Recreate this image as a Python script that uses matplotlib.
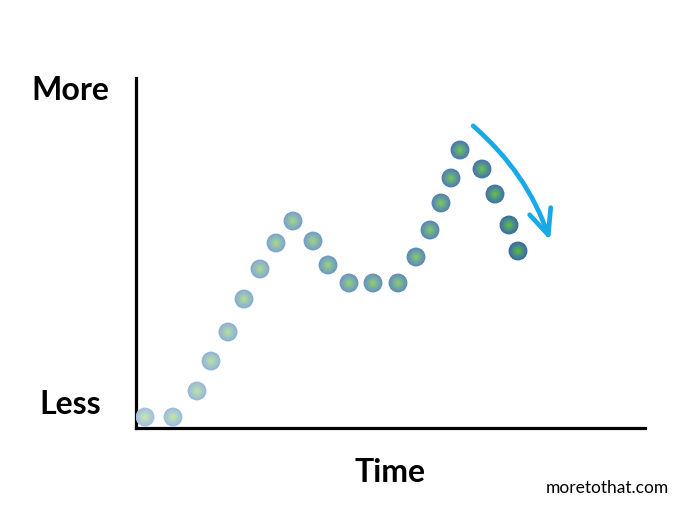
import matplotlib
matplotlib.use("Agg")
import matplotlib.pyplot as plt
import numpy as np
from matplotlib.colors import to_rgb

# Data (time, amount)
time = [0.9, 3.7, 6.1, 7.5, 9.2, 10.8, 12.4, 14.0, 15.7, 17.7, 19.2, 21.3,
        23.7, 26.2, 28.0, 29.4, 30.5, 31.5, 32.4, 34.6, 35.9, 37.3, 38.2]
amount = [1.1, 1.1, 3.7, 6.7, 9.6, 12.9, 15.9, 18.5, 20.7, 18.7, 16.3, 14.5,
          14.5, 14.5, 17.1, 19.8, 22.5, 25.0, 27.8, 25.9, 23.4, 20.3, 17.7]
y_labels = ["Less", "More"]
x_label = "Time"
credit = "moretothat.com"

plt.rcParams['font.family'] = ['Lato', 'DejaVu Sans']

fig = plt.figure(figsize=(7.0, 5.13), dpi=100)
ax = fig.add_axes([136/700, 85/513, 509/700, 350/513])
ax.set_xlim(0, 50.9)
ax.set_ylim(0, 35.0)
for s in ['top', 'right']:
    ax.spines[s].set_visible(False)
for s in ['left', 'bottom']:
    ax.spines[s].set_linewidth(2.3)
    ax.spines[s].set_color('black')
ax.set_xticks([])
ax.set_yticks([])
ax.patch.set_alpha(0)

# gradient colours: early points lighter, later darker
edge_light = np.array(to_rgb('#a0c0e2'))
edge_dark = np.array(to_rgb('#3668a8'))
ctr_light = np.array(to_rgb('#cae6b2'))
ctr_dark = np.array(to_rgb('#5cbc48'))
n = len(time)
steps = 18
base_size = 185
for i, (t, a) in enumerate(zip(time, amount)):
    f = i / (n - 1)
    edge = edge_light * (1 - f) + edge_dark * f
    ctr = ctr_light * (1 - f) + ctr_dark * f
    for k in range(steps):
        g = k / (steps - 1)
        w = g ** 1.0
        col = edge * (1 - w) + ctr * w
        size = base_size * (1 - g * 0.95) ** 2
        ax.scatter([t], [a], s=size, color=col, edgecolors='none', zorder=3 + k * 0.01)

# arrow
ax.annotate("", xy=(41.5, 18.5), xytext=(33.5, 30.4),
            arrowprops=dict(arrowstyle="->,head_length=1.8,head_width=0.8",
                            connectionstyle="arc3,rad=-0.14",
                            color='#18aae8', lw=3.4, capstyle='round',
                            joinstyle='round'),
            annotation_clip=False)

fig.text(70/700, 1 - 90/513, y_labels[1], fontsize=23, fontweight='bold',
         ha='center', va='center')
fig.text(70/700, 1 - 405/513, y_labels[0], fontsize=23, fontweight='bold',
         ha='center', va='center')
fig.text(390/700, 1 - 472/513, x_label, fontsize=23, fontweight='bold',
         ha='center', va='center')
fig.text(607/700, 1 - 488/513, credit, fontsize=12.5, ha='center', va='center')

fig.savefig("out.png", dpi=100, facecolor='white')
